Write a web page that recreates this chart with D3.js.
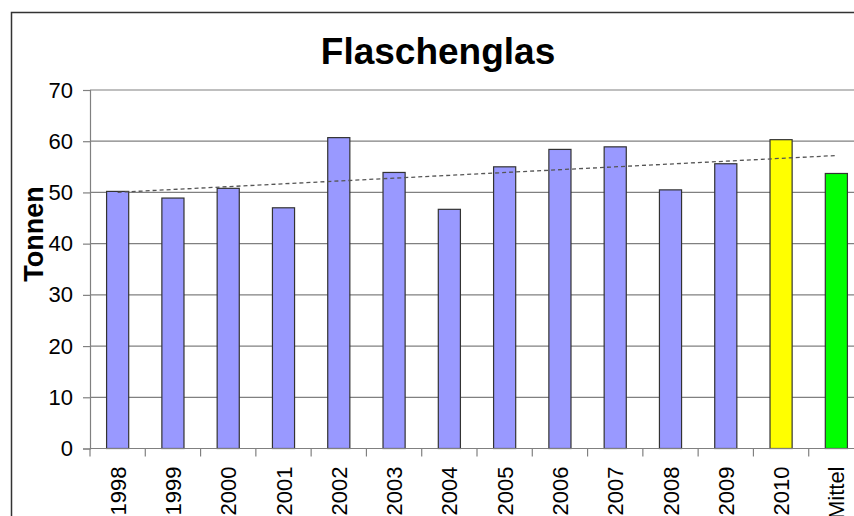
<!DOCTYPE html>
<html>
<head>
<meta charset="utf-8">
<script src="https://cdn.jsdelivr.net/npm/d3@7"></script>
<style>
  body { margin: 0; background: #fff; }
  svg { display: block; font-family: "Liberation Sans", Arial, sans-serif; }
</style>
</head>
<body>
<svg width="854" height="516"></svg>
<script>
// categories and values (Tonnen)
var categories = ["1998","1999","2000","2001","2002","2003","2004","2005","2006","2007","2008","2009","2010","Mittel"];
var values = [50.2, 48.9, 50.8, 47.0, 60.7, 53.9, 46.7, 55.0, 58.4, 58.9, 50.5, 55.6, 60.3, 53.7];
var yTicks = [0, 10, 20, 30, 40, 50, 60, 70];

var svg = d3.select("svg"),
  margin = {top: 90, left: 90},
  plotW = 774,
  plotH = 358.5;

// outer frame (cut off at right/bottom like the original)
svg.append("path")
  .attr("d", "M11.5,520V12.5H860")
  .attr("fill", "none")
  .attr("stroke", "#333")
  .attr("stroke-width", 1.5);

var x = d3.scaleBand().domain(categories).range([margin.left, margin.left + plotW]).paddingInner(0.6).paddingOuter(0.3);
var xb = d3.scaleBand().domain(categories).range([margin.left, margin.left + plotW]);
var y = d3.scaleLinear().domain([0, 70]).range([margin.top + plotH, margin.top]);

// gridlines
svg.append("g")
  .selectAll("line")
  .data(yTicks.filter(function(d) { return d > 0; }))
  .enter().append("line")
  .attr("x1", margin.left).attr("x2", margin.left + plotW)
  .attr("y1", function(d) { return y(d); }).attr("y2", function(d) { return y(d); })
  .attr("stroke", "#808080").attr("stroke-width", 1.2);

// y axis
var yAxis = svg.append("g")
  .attr("transform", "translate(" + margin.left + ",0)")
  .call(d3.axisLeft(y).tickValues(yTicks).tickSize(7).tickPadding(10));
yAxis.select(".domain").attr("stroke", "#808080").attr("stroke-width", 1.2);
yAxis.selectAll(".tick line").attr("stroke", "#808080").attr("stroke-width", 1.2);
yAxis.selectAll("text").attr("font-size", 22).attr("fill", "#000")
  .attr("font-family", "Liberation Sans, Arial, sans-serif");

// bars
svg.append("g")
  .selectAll("rect")
  .data(values)
  .enter().append("rect")
  .attr("x", function(d, i) { return x(categories[i]); })
  .attr("width", x.bandwidth())
  .attr("y", function(d) { return y(d); })
  .attr("height", function(d) { return y(0) - y(d); })
  .attr("fill", function(d, i) {
    if (categories[i] == "Mittel") return "#00ff00";
    if (categories[i] == "2010") return "#ffff00";
    return "#9999ff";
  })
  .attr("stroke", "#333")
  .attr("stroke-width", 1.2);

// x axis line + ticks between categories
var bottom = y(0);
svg.append("line")
  .attr("x1", margin.left).attr("x2", margin.left + plotW)
  .attr("y1", bottom).attr("y2", bottom)
  .attr("stroke", "#808080").attr("stroke-width", 1.2);
svg.append("g")
  .selectAll("line")
  .data(categories)
  .enter().append("line")
  .attr("x1", function(d) { return xb(d); }).attr("x2", function(d) { return xb(d); })
  .attr("y1", bottom).attr("y2", bottom + 8)
  .attr("stroke", "#808080").attr("stroke-width", 1.2);

// x labels, rotated
svg.append("g")
  .selectAll("text")
  .data(categories)
  .enter().append("text")
  .attr("transform", function(d) {
    return "translate(" + (xb(d) + xb.bandwidth() / 2 + 8) + "," + (bottom + 18) + ") rotate(-90)";
  })
  .attr("text-anchor", "end")
  .attr("font-size", 22)
  .text(function(d) { return d; });

// linear trend over all points
var n = values.length,
  mx = d3.mean(values, function(d, i) { return i + 1; }),
  my = d3.mean(values),
  sxy = d3.sum(values, function(d, i) { return (i + 1 - mx) * (d - my); }),
  sxx = d3.sum(values, function(d, i) { return (i + 1 - mx) * (i + 1 - mx); }),
  slope = sxy / sxx,
  icpt = my - slope * mx;
svg.append("line")
  .attr("x1", xb(categories[0]) + xb.bandwidth() / 2)
  .attr("y1", y(icpt + slope))
  .attr("x2", xb(categories[n - 1]) + xb.bandwidth() / 2)
  .attr("y2", y(icpt + slope * n))
  .attr("stroke", "#555")
  .attr("stroke-width", 1.3)
  .attr("stroke-dasharray", "4,3");

// title
svg.append("text")
  .attr("x", 438).attr("y", 64)
  .attr("text-anchor", "middle")
  .attr("font-size", 37).attr("font-weight", "bold")
  .text("Flaschenglas");

// y label
svg.append("text")
  .attr("transform", "translate(43,234) rotate(-90)")
  .attr("text-anchor", "middle")
  .attr("font-size", 27).attr("font-weight", "bold")
  .text("Tonnen");
</script>
</body>
</html>
